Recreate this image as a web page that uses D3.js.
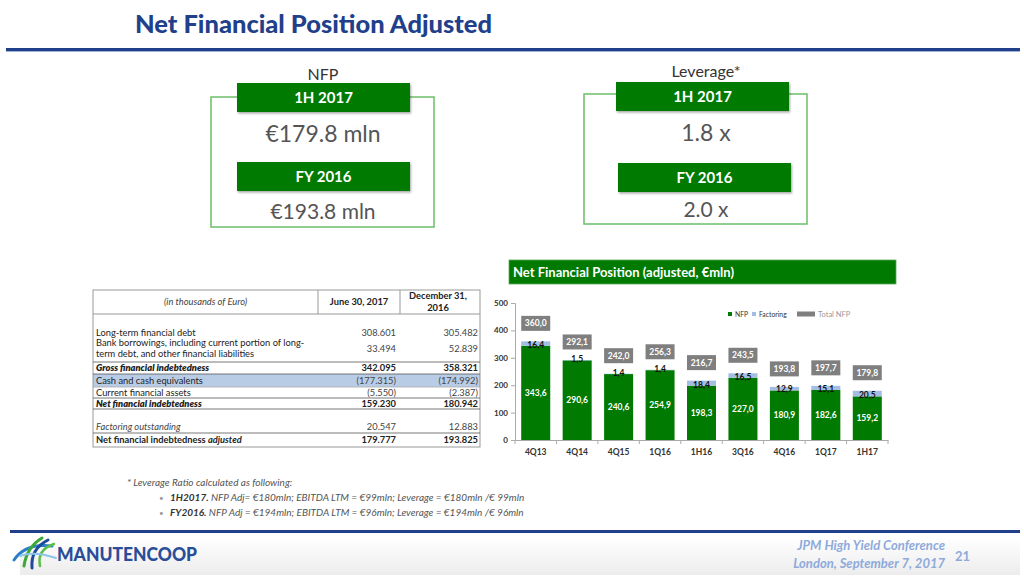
<!DOCTYPE html>
<html>
<head>
<meta charset="utf-8">
<script src="https://cdn.jsdelivr.net/npm/d3@7"></script>
<style>
  html, body { margin: 0; padding: 0; background: #fff; }
  svg { display: block; font-family: Lato, "Open Sans", sans-serif; }
</style>
</head>
<body>
<svg id="chart" width="1024" height="577"></svg>
<script>
// ---------------- DATA ----------------
const categories = ["4Q13", "4Q14", "4Q15", "1Q16", "1H16", "3Q16", "4Q16", "1Q17", "1H17"];
const nfpValues = [343.6, 290.6, 240.6, 254.9, 198.3, 227.0, 180.9, 182.6, 159.2];
const factoringValues = [16.4, 1.5, 1.4, 1.4, 18.4, 16.5, 12.9, 15.1, 20.5];
const totalValues = [360.0, 292.1, 242.0, 256.3, 216.7, 243.5, 193.8, 197.7, 179.8];
const yTicks = [0, 100, 200, 300, 400, 500];
const legendLabels = ["NFP", "Factoring", "Total NFP"];

const kpiPeriods = ["1H 2017", "FY 2016"];
const nfpKpi = ["€179.8 mln", "€193.8 mln"];
const leverageKpi = ["1.8 x", "2.0 x"];

const tableHeader = ["(in thousands of Euro)", "June 30, 2017", "December 31,|2016"];
const tableLabels = [
  "Long-term financial debt",
  "Bank borrowings, including current portion of long-|term debt, and other financial liabilities",
  "Gross financial indebtedness",
  "Cash and cash equivalents",
  "Current financial assets",
  "Net financial indebtedness",
  "",
  "Factoring outstanding",
  "Net financial indebtedness |adjusted"
];
const tableJune = ["308.601", "33.494", "342.095", "(177.315)", "(5.550)", "159.230", "", "20.547", "179.777"];
const tableDec = ["305.482", "52.839", "358.321", "(174.992)", "(2.387)", "180.942", "", "12.883", "193.825"];

const footTitle = "* Leverage Ratio calculated as following:";
const footBold = ["1H2017.", "FY2016."];
const footText = [" NFP Adj= €180mln; EBITDA LTM = €99mln; Leverage = €180mln /€ 99mln",
                  " NFP Adj = €194mln; EBITDA LTM = €96mln; Leverage = €194mln /€ 96mln"];

// ---------------- STYLES / LAYOUT ----------------
const BLUE = "#213f8b";
const GREEN = "#007a00";
const LIGHTGREEN = "#6cbf68";
const FACT = "#a3bde3";
const GREY = "#7f7f7f";
const rowStyle = ["n", "n", "bi", "hl", "n", "bi", "n", "i", "adj"];
const rowBounds = [[326, 340], [340, 362], [362, 374], [374, 387], [387, 398], [398, 409], [409, 421], [421, 433], [433, 447]];

const svg = d3.select("#chart");
const defs = svg.append("defs");
const f = defs.append("filter").attr("id", "sh").attr("x", "-10%").attr("y", "-20%").attr("width", "130%").attr("height", "160%");
f.append("feDropShadow").attr("dx", 1).attr("dy", 1.5).attr("stdDeviation", 1.2).attr("flood-color", "#000").attr("flood-opacity", 0.35);
const g = defs.append("linearGradient").attr("id", "foot").attr("x1", 0).attr("y1", 0).attr("x2", 0).attr("y2", 1);
g.append("stop").attr("offset", 0).attr("stop-color", "#fff");
g.append("stop").attr("offset", 1).attr("stop-color", "#ececec");

// ---------------- TITLE ----------------
svg.append("text").attr("x", 135).attr("y", 33)
  .attr("font-size", 25).attr("font-weight", 900).attr("fill", BLUE)
  .attr("textLength", 357).attr("lengthAdjust", "spacingAndGlyphs")
  .text("Net Financial Position Adjusted");
svg.append("rect").attr("x", 6).attr("y", 48).attr("width", 1014).attr("height", 3).attr("fill", BLUE);
svg.append("rect").attr("x", 6).attr("y", 51).attr("width", 1014).attr("height", 1).attr("fill", "#9fb2d8");

// ---------------- KPI BOXES ----------------
function kpiBox(cx, label, outline, heads, values, valueSizes) {
  svg.append("text").attr("x", cx).attr("y", outline.labelY).attr("text-anchor", "middle")
    .attr("font-size", 16).attr("fill", "#333").text(label);
  svg.append("rect").attr("x", outline.x).attr("y", outline.y).attr("width", outline.w).attr("height", outline.h)
    .attr("fill", "none").attr("stroke", LIGHTGREEN).attr("stroke-width", 1.5);
  heads.forEach((h, i) => {
    svg.append("rect").attr("x", h.x).attr("y", h.y).attr("width", 173).attr("height", 29)
      .attr("fill", GREEN).attr("filter", "url(#sh)");
    svg.append("text").attr("x", h.x + 86.5).attr("y", h.y + 20).attr("text-anchor", "middle")
      .attr("font-size", 15).attr("font-weight", 700).attr("fill", "#fff").text(kpiPeriods[i]);
    svg.append("text").attr("x", cx).attr("y", h.valueY).attr("text-anchor", "middle")
      .attr("font-size", valueSizes[i]).attr("fill", "#555").text(values[i]);
  });
}
kpiBox(323, "NFP", {x: 211, y: 97, w: 223, h: 130, labelY: 80},
  [{x: 237, y: 83, valueY: 142}, {x: 237, y: 162, valueY: 219}], nfpKpi, [23, 21]);
kpiBox(706, "Leverage*", {x: 584, y: 94, w: 223, h: 130, labelY: 77},
  [{x: 616, y: 82, valueY: 141}, {x: 618, y: 163, valueY: 217}], leverageKpi, [23, 21]);

// ---------------- TABLE ----------------
const T = {x0: 93, x1: 318, x2: 400, x3: 480, top: 290, headBot: 314, bot: 447};
const tbl = svg.append("g").attr("font-size", 9.3).attr("fill", "#222");
rowBounds.forEach((b, i) => {
  if (rowStyle[i] === "hl") tbl.append("rect").attr("x", T.x0).attr("y", b[0]).attr("width", T.x3 - T.x0).attr("height", b[1] - b[0]).attr("fill", "#b9cce6");
});
tbl.append("rect").attr("x", T.x0).attr("y", T.top).attr("width", T.x3 - T.x0).attr("height", T.bot - T.top)
  .attr("fill", "none").attr("stroke", "#999").attr("stroke-width", 1);
tbl.append("line").attr("x1", T.x0).attr("x2", T.x3).attr("y1", T.headBot).attr("y2", T.headBot).attr("stroke", "#999");
[T.x1, T.x2].forEach(x => tbl.append("line").attr("x1", x).attr("x2", x).attr("y1", T.top).attr("y2", T.headBot).attr("stroke", "#999"));
const lineYs = [362, 374, 387, 398, 409, 433];
lineYs.forEach(y => tbl.append("line").attr("x1", T.x0).attr("x2", T.x3).attr("y1", y).attr("y2", y)
  .attr("stroke", (y === 387) ? "#aaa" : "#555").attr("stroke-width", 0.8));
// header
tbl.append("text").attr("x", (T.x0 + T.x1) / 2).attr("y", 305).attr("text-anchor", "middle")
  .attr("font-style", "italic").attr("fill", "#444").text(tableHeader[0]);
tbl.append("text").attr("x", (T.x1 + T.x2) / 2).attr("y", 305).attr("text-anchor", "middle")
  .attr("font-weight", 700).text(tableHeader[1]);
tableHeader[2].split("|").forEach((t, k) => tbl.append("text").attr("x", (T.x2 + T.x3) / 2 - 2).attr("y", 299 + k * 12)
  .attr("text-anchor", "middle").attr("font-weight", 700).text(t));
// rows
tableLabels.forEach((lab, i) => {
  const b = rowBounds[i];
  const st = rowStyle[i];
  const lines = lab.split("|");
  const bold = st === "bi" || st === "adj";
  const italic = st === "bi" || st === "i";
  const midY = (b[0] + b[1]) / 2 + 3.2;
  if (st === "adj") {
    const t = tbl.append("text").attr("x", T.x0 + 3).attr("y", midY).attr("font-weight", 700);
    t.append("tspan").text(lines[0]);
    t.append("tspan").attr("font-style", "italic").text(lines[1]);
  } else {
    lines.forEach((ln, k) => {
      const yy = lines.length === 1 ? midY : b[0] + 6 + k * 11;
      tbl.append("text").attr("x", T.x0 + 3).attr("y", yy)
        .attr("font-weight", bold ? 800 : 400).attr("font-style", italic ? "italic" : "normal")
        .attr("fill", st === "i" ? "#444" : "#222").text(ln);
    });
  }
  const vb = bold ? 700 : 400;
  const vy = i === 1 ? b[0] + 12 : midY;
  tbl.append("text").attr("x", T.x2 - 4).attr("y", vy).attr("text-anchor", "end").attr("font-weight", vb).attr("fill", bold ? "#222" : "#444").text(tableJune[i]);
  tbl.append("text").attr("x", T.x3 - 2).attr("y", vy).attr("text-anchor", "end").attr("font-weight", vb).attr("fill", bold ? "#222" : "#444").text(tableDec[i]);
});

// ---------------- CHART ----------------
svg.append("rect").attr("x", 509).attr("y", 260).attr("width", 387).attr("height", 24).attr("fill", GREEN)
  .attr("stroke", "#5aa85a").attr("stroke-width", 0.8);
svg.append("text").attr("x", 513).attr("y", 277).attr("font-size", 13).attr("font-weight", 700).attr("fill", "#fff")
  .text("Net Financial Position (adjusted, €mln)");

const x = d3.scaleBand().domain(categories).range([515, 888]).paddingInner(0.3).paddingOuter(0.15);
const y = d3.scaleLinear().domain([0, 500]).range([440, 303]);
const chart = svg.append("g");

// y axis
const yAxis = chart.append("g").attr("transform", "translate(515,0)")
  .call(d3.axisLeft(y).tickValues(yTicks).tickSize(4).tickPadding(3));
yAxis.select(".domain").attr("stroke", "#aaa");
yAxis.selectAll(".tick line").attr("stroke", "#aaa");
yAxis.selectAll("text").attr("font-size", 8).attr("font-weight", 700).attr("fill", "#333").attr("font-family", "Lato, sans-serif");

// x axis
const xAxis = chart.append("g").attr("transform", "translate(0,440)")
  .call(d3.axisBottom(x).tickSize(0).tickPadding(9));
xAxis.select(".domain").attr("stroke", "#aaa");
xAxis.selectAll("text").attr("font-size", 8.5).attr("font-weight", 700).attr("fill", "#333").attr("font-family", "Lato, sans-serif");
const gap = x.step() * x.paddingInner();
const bounds = [x(categories[0]) - gap / 2].concat(categories.map(c => x(c) + x.bandwidth() + gap / 2));
chart.selectAll(".bt").data(bounds).enter().append("line")
  .attr("x1", d => d).attr("x2", d => d).attr("y1", 440).attr("y2", 444).attr("stroke", "#aaa");

// bars
const rows = categories.map((c, i) => ({c, nfp: nfpValues[i], fac: factoringValues[i], tot: totalValues[i]}));
chart.selectAll(".nfp").data(rows).enter().append("rect")
  .attr("x", d => x(d.c)).attr("width", x.bandwidth())
  .attr("y", d => y(d.nfp)).attr("height", d => y(0) - y(d.nfp)).attr("fill", GREEN);
chart.selectAll(".fac").data(rows).enter().append("rect")
  .attr("x", d => x(d.c)).attr("width", x.bandwidth())
  .attr("y", d => y(d.nfp + d.fac)).attr("height", d => y(d.nfp) - y(d.nfp + d.fac)).attr("fill", FACT);
chart.selectAll(".nfpl").data(rows).enter().append("text")
  .attr("x", d => x(d.c) + x.bandwidth() / 2).attr("y", d => (y(d.nfp) + y(0)) / 2 + 3)
  .attr("text-anchor", "middle").attr("font-size", 8.5).attr("font-weight", 700).attr("fill", "#fff")
  .text(d => d3.format(".1f")(d.nfp).replace(".", ","));
chart.selectAll(".facl").data(rows).enter().append("text")
  .attr("x", d => x(d.c) + x.bandwidth() / 2).attr("y", d => y(d.nfp) + 2)
  .attr("text-anchor", "middle").attr("font-size", 8.5).attr("font-weight", 700).attr("fill", "#111")
  .text(d => d3.format(".1f")(d.fac).replace(".", ","));
const tl = chart.selectAll(".totl").data(rows).enter().append("g")
  .attr("transform", d => `translate(${x(d.c) + x.bandwidth() / 2},${y(d.tot) - 18})`);
tl.append("rect").attr("x", -14.5).attr("y", -7.5).attr("width", 29).attr("height", 15).attr("fill", GREY);
tl.append("text").attr("y", 3).attr("text-anchor", "middle").attr("font-size", 8.5).attr("font-weight", 700).attr("fill", "#fff")
  .text(d => d3.format(".1f")(d.tot).replace(".", ","));

// legend
const legend = chart.append("g").attr("font-size", 6.8);
const legItems = [
  {x: 728, w: 4, h: 4, fill: GREEN, tc: "#333"},
  {x: 752, w: 4, h: 4, fill: FACT, tc: "#333"},
  {x: 797, w: 18, h: 5, fill: GREY, tc: "#999"}
];
legItems.forEach((it, i) => {
  legend.append("rect").attr("x", it.x).attr("y", 314 - it.h / 2).attr("width", it.w).attr("height", it.h).attr("fill", it.fill);
  legend.append("text").attr("x", it.x + it.w + 3).attr("y", 316.5).attr("fill", it.tc)
    .attr("font-size", i === 2 ? 7.5 : 6.8).text(legendLabels[i]);
});

// ---------------- FOOTNOTE ----------------
const fn = svg.append("g").attr("font-size", 10).attr("font-style", "italic").attr("fill", "#555");
fn.append("text").attr("x", 127).attr("y", 486).text(footTitle);
footBold.forEach((b, i) => {
  fn.append("text").attr("x", 159).attr("y", 501 + i * 15).attr("font-style", "normal").attr("fill", "#999").attr("font-size", 8).text("•");
  const t = fn.append("text").attr("x", 170).attr("y", 501 + i * 15);
  t.append("tspan").attr("font-weight", 700).attr("fill", "#333").text(b);
  t.append("tspan").text(footText[i]);
});

// ---------------- FOOTER ----------------
svg.append("rect").attr("x", 20).attr("y", 537).attr("width", 1000).attr("height", 38).attr("fill", "url(#foot)");
svg.append("rect").attr("x", 10).attr("y", 530).attr("width", 1010).attr("height", 3).attr("fill", BLUE);
// logo swooshes
const logo = svg.append("g").attr("fill", "none").attr("stroke-linecap", "round");
logo.append("path").attr("d", "M14 560 C 22 548, 36 544, 52 546").attr("stroke", "#2a7fc9").attr("stroke-width", 3);
logo.append("path").attr("d", "M24 566 C 26 552, 32 544, 42 538").attr("stroke", "#3aa935").attr("stroke-width", 3);
logo.append("path").attr("d", "M32 568 C 31 556, 36 546, 48 540").attr("stroke", "#1e4a9a").attr("stroke-width", 3);
logo.append("path").attr("d", "M40 566 C 38 556, 42 548, 54 544").attr("stroke", "#5bbf4a").attr("stroke-width", 2.5);
logo.append("path").attr("d", "M20 556 C 30 552, 44 554, 56 558").attr("stroke", "#8cc6ea").attr("stroke-width", 2);
svg.append("text").attr("x", 57).attr("y", 561).attr("font-size", 19).attr("font-weight", 900).attr("fill", "#2a4d9a")
  .attr("textLength", 140).attr("lengthAdjust", "spacingAndGlyphs").text("MANUTENCOOP");
const ft = svg.append("g").attr("font-size", 13).attr("font-style", "italic").attr("font-weight", 700).attr("fill", "#8eaadb").attr("text-anchor", "end");
ft.append("text").attr("x", 945).attr("y", 550).text("JPM High Yield Conference");
ft.append("text").attr("x", 945).attr("y", 568).text("London, September 7, 2017");
svg.append("text").attr("x", 955).attr("y", 561).attr("font-size", 13).attr("font-weight", 700).attr("fill", "#8eaadb").text("21");
</script>
</body>
</html>
